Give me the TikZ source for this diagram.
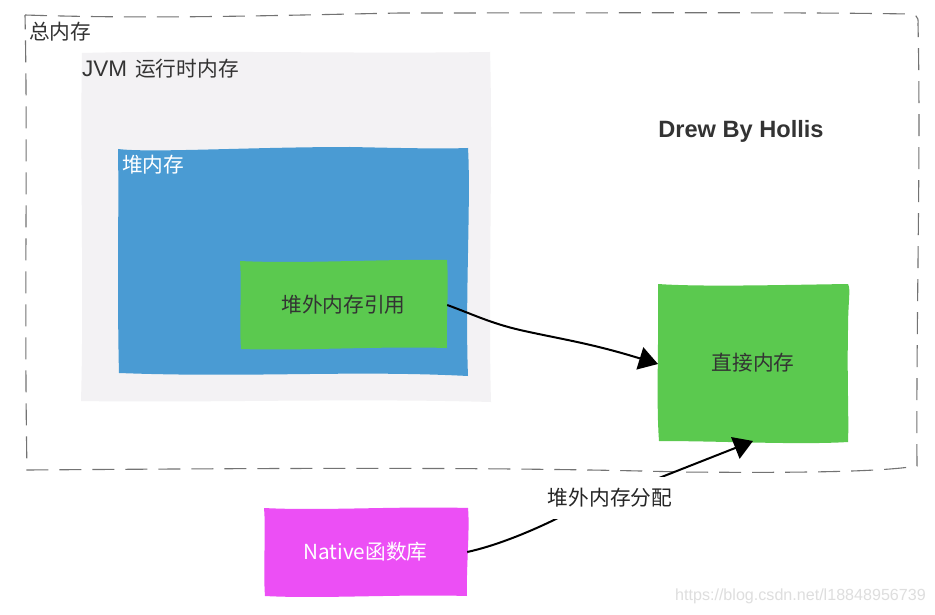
\documentclass[tikz,border=0pt]{standalone}
\usepackage{fontspec}
\setmainfont{Noto Sans CJK SC}
\newfontfamily\latinb{Liberation Sans}
\usetikzlibrary{arrows.meta}
\definecolor{gfill}{HTML}{5BC94F}
\definecolor{bfill}{HTML}{4A9BD3}
\definecolor{gray1}{HTML}{F3F2F4}
\definecolor{mfill}{HTML}{EC4FF5}
\definecolor{tx}{HTML}{333333}
\tikzset{
 lbl/.style={font=\fontsize{20.7pt}{24pt}\selectfont,text=tx,inner sep=0pt},
 wire/.style={draw=black,line width=2pt,-{Triangle[length=19pt,width=23pt]}},
 sketchnode/.style={inner sep=0pt}
}
\begin{document}
\begin{tikzpicture}[x=1pt,y=-1pt]
\useasboundingbox (0,0) rectangle (935,615);
\fill[white] (0,0) rectangle (935,615);
% dashed outer border
\draw[black!55,line width=1.1pt,dash pattern=on 22pt off 11pt]
 (25,15) .. controls (150,19) and (250,16) .. (400,13) .. controls (600,13) and (800,12) .. (908,14) .. controls (915,14) and (919,16) .. (918,24)
 .. controls (921,150) and (916,320) .. (917,466) .. controls (880,472) and (800,473) .. (680,472) .. controls (500,467) and (300,468) .. (27,470)
 .. controls (24,300) and (28,150) .. (25,15);
\node[lbl,anchor=west] (tot) at (29,32) {总内存};
% JVM area
\fill[gray1] (82,53) .. controls (200,50) and (350,54) .. (490,52) .. controls (493,150) and (488,300) .. (491,402) .. controls (350,398) and (200,403) .. (81,401) .. controls (84,300) and (80,150) .. (82,53) -- cycle;
\node[lbl,anchor=west] (jvm) at (82,69) {{\latinb\fontsize{22.5pt}{24pt}\selectfont JVM}\hspace{8pt}运行时内存};
% heap
\fill[bfill] (118,149) .. controls (150,153) and (250,147) .. (350,147) .. controls (400,148) and (440,149) .. (468,148) .. controls (471,200) and (465,300) .. (468,376) .. controls (350,370) and (250,378) .. (119,373) .. controls (117,300) and (119,200) .. (118,149) -- cycle;
\node[lbl,anchor=west,text=white] (heap) at (122,165) {堆内存};
% off-heap reference
\fill[gfill] (240,261) .. controls (300,264) and (380,259) .. (447,260) .. controls (449,290) and (446,320) .. (447,348) .. controls (380,346) and (300,351) .. (241,349) .. controls (239,320) and (242,290) .. (240,261) -- cycle;
\node[lbl,sketchnode,minimum width=207pt,minimum height=88pt] (ref) at (343.5,305) {堆外内存引用};
% direct memory
\fill[gfill] (658,284) .. controls (700,287) and (780,285) .. (848,284) .. controls (851,290) and (848,300) .. (848,330) .. controls (847,380) and (849,420) .. (848,442) .. controls (800,445) and (720,441) .. (659,441) .. controls (656,400) and (659,340) .. (658,284) -- cycle;
\node[lbl,sketchnode,minimum width=191pt,minimum height=158pt] (direct) at (753,363) {直接内存};
% native
\fill[mfill] (264,508) .. controls (320,511) and (400,506) .. (468,508) .. controls (470,530) and (466,570) .. (467,596) .. controls (400,594) and (320,599) .. (265,596) .. controls (263,570) and (266,530) .. (264,508) -- cycle;
\node[lbl,sketchnode,text=white,minimum width=203pt,minimum height=88pt] (nat) at (365.5,552) {Native函数库};
\node[font=\latinb\bfseries\fontsize{23.6pt}{28pt}\selectfont,text=tx,inner sep=0pt] (drew) at (741,131.5) {Drew By Hollis};
% connectors
\coordinate (reftip) at (658,364);
\coordinate (dirtip) at (753,441);
\draw[wire] (ref.east) .. controls (472,314) and (490,323) .. (520,330) .. controls (560,339) and (590,343) .. (reftip);
\draw[wire] (nat.east) .. controls (495,546) and (530,532) .. (560,517) -- (dirtip);
\node[lbl,text=black!85,fill=white,minimum width=126pt,minimum height=42pt] (alloc) at (610,497.5) {堆外内存分配};
\node[font=\latinb\fontsize{16.1pt}{20pt}\selectfont,text=black!13,anchor=east,inner sep=0pt] (wm) at (926,596) {https://blog.csdn.net/l18848956739};
\end{tikzpicture}
\end{document}
